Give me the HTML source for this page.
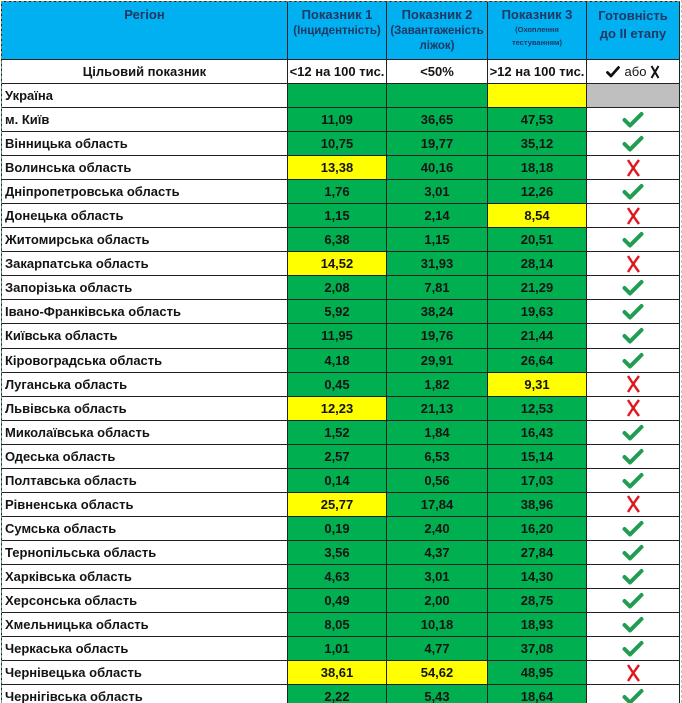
<!DOCTYPE html>
<html><head><meta charset="utf-8">
<style>
html,body{margin:0;padding:0;background:#fff;width:682px;height:703px;overflow:hidden}
body{font-family:"Liberation Sans","DejaVu Sans",sans-serif;position:relative}
.g{position:absolute;left:1px;top:1px;border-left:1px dashed #6f9a86;border-top:1px dashed #6f9a86;border-right:1px solid #222;background:#222;display:grid;
grid-template-columns:285px 98px 100px 98px 92px;
grid-template-rows:57px 23px repeat(26,23.06px);gap:1px}
.g>div{display:flex;align-items:center;justify-content:center;font-weight:bold;font-size:13px;color:#141414;background:#fff;overflow:hidden;white-space:nowrap}
.g>div.r{justify-content:flex-start;padding-left:3px;font-size:13px}
.h{background:#00B0F0 !important;color:#1f3864 !important;position:relative;display:block !important}
.h span{position:absolute;left:0;right:0;text-align:center;line-height:1}
.G{background:#00B050 !important}
.Y{background:#FFFF00 !important}
.S{background:#BFBFBF !important}
.t{font-size:13px !important}
</style></head><body>
<div class="g">
<div class="h"><span style="top:6px;font-size:13px">Регіон</span></div>
<div class="h"><span style="top:6px;font-size:13px">Показник 1</span><span style="top:24px;font-size:11.5px">(Інцидентність)</span></div>
<div class="h"><span style="top:6px;font-size:13px">Показник 2</span><span style="top:24px;font-size:11.5px">(Завантаженість</span><span style="top:39px;font-size:11.5px">ліжок)</span></div>
<div class="h"><span style="top:6px;font-size:13px">Показник 3</span><span style="top:24px;font-size:7.5px">(Охоплення</span><span style="top:37px;font-size:7.5px">тестуванням)</span></div>
<div class="h"><span style="top:7px;font-size:13px">Готовність</span><span style="top:25px;font-size:13px">до II етапу</span></div>

<div class="t">Цільовий показник</div>
<div class="t">&lt;12 на 100 тис.</div>
<div class="t">&lt;50%</div>
<div class="t">&gt;12 на 100 тис.</div>
<div class="t" style="font-weight:normal"><svg width="14" height="12" viewBox="0 0 14 12"><path d="M1.5 6.5 L5 10 L12.5 1.5" stroke="#111" stroke-width="2.8" fill="none" stroke-linecap="round" stroke-linejoin="round"/></svg><span style="margin:0 4px 0 5px;font-weight:normal">або</span><svg width="10" height="14" viewBox="0 0 10 14"><path d="M1.5 1 Q5 7 8.5 13 M8.5 1 Q5 7 1.5 13" stroke="#111" stroke-width="2" fill="none"/></svg></div>

<div class="r">Україна</div><div class="G"></div><div class="G"></div><div class="Y"></div><div class="S"></div>
<div class="r">м. Київ</div><div class="G">11,09</div><div class="G">36,65</div><div class="G">47,53</div><div><svg width="22" height="17" viewBox="0 0 22 17"><path d="M2.5 9 L8 14.5 L19.5 3" stroke="#1f9e52" stroke-width="4" fill="none" stroke-linecap="round" stroke-linejoin="round"/></svg></div>
<div class="r">Вінницька область</div><div class="G">10,75</div><div class="G">19,77</div><div class="G">35,12</div><div><svg width="22" height="17" viewBox="0 0 22 17"><path d="M2.5 9 L8 14.5 L19.5 3" stroke="#1f9e52" stroke-width="4" fill="none" stroke-linecap="round" stroke-linejoin="round"/></svg></div>
<div class="r">Волинська область</div><div class="Y">13,38</div><div class="G">40,16</div><div class="G">18,18</div><div><svg width="15" height="18" viewBox="0 0 15 18"><path d="M2 1 Q7 9 13 17 M13 1 Q7 9 2 17" stroke="#e2141c" stroke-width="2.4" fill="none"/></svg></div>
<div class="r">Дніпропетровська область</div><div class="G">1,76</div><div class="G">3,01</div><div class="G">12,26</div><div><svg width="22" height="17" viewBox="0 0 22 17"><path d="M2.5 9 L8 14.5 L19.5 3" stroke="#1f9e52" stroke-width="4" fill="none" stroke-linecap="round" stroke-linejoin="round"/></svg></div>
<div class="r">Донецька область</div><div class="G">1,15</div><div class="G">2,14</div><div class="Y">8,54</div><div><svg width="15" height="18" viewBox="0 0 15 18"><path d="M2 1 Q7 9 13 17 M13 1 Q7 9 2 17" stroke="#e2141c" stroke-width="2.4" fill="none"/></svg></div>
<div class="r">Житомирська область</div><div class="G">6,38</div><div class="G">1,15</div><div class="G">20,51</div><div><svg width="22" height="17" viewBox="0 0 22 17"><path d="M2.5 9 L8 14.5 L19.5 3" stroke="#1f9e52" stroke-width="4" fill="none" stroke-linecap="round" stroke-linejoin="round"/></svg></div>
<div class="r">Закарпатська область</div><div class="Y">14,52</div><div class="G">31,93</div><div class="G">28,14</div><div><svg width="15" height="18" viewBox="0 0 15 18"><path d="M2 1 Q7 9 13 17 M13 1 Q7 9 2 17" stroke="#e2141c" stroke-width="2.4" fill="none"/></svg></div>
<div class="r">Запорізька область</div><div class="G">2,08</div><div class="G">7,81</div><div class="G">21,29</div><div><svg width="22" height="17" viewBox="0 0 22 17"><path d="M2.5 9 L8 14.5 L19.5 3" stroke="#1f9e52" stroke-width="4" fill="none" stroke-linecap="round" stroke-linejoin="round"/></svg></div>
<div class="r">Івано-Франківська область</div><div class="G">5,92</div><div class="G">38,24</div><div class="G">19,63</div><div><svg width="22" height="17" viewBox="0 0 22 17"><path d="M2.5 9 L8 14.5 L19.5 3" stroke="#1f9e52" stroke-width="4" fill="none" stroke-linecap="round" stroke-linejoin="round"/></svg></div>
<div class="r">Київська область</div><div class="G">11,95</div><div class="G">19,76</div><div class="G">21,44</div><div><svg width="22" height="17" viewBox="0 0 22 17"><path d="M2.5 9 L8 14.5 L19.5 3" stroke="#1f9e52" stroke-width="4" fill="none" stroke-linecap="round" stroke-linejoin="round"/></svg></div>
<div class="r">Кіровоградська область</div><div class="G">4,18</div><div class="G">29,91</div><div class="G">26,64</div><div><svg width="22" height="17" viewBox="0 0 22 17"><path d="M2.5 9 L8 14.5 L19.5 3" stroke="#1f9e52" stroke-width="4" fill="none" stroke-linecap="round" stroke-linejoin="round"/></svg></div>
<div class="r">Луганська область</div><div class="G">0,45</div><div class="G">1,82</div><div class="Y">9,31</div><div><svg width="15" height="18" viewBox="0 0 15 18"><path d="M2 1 Q7 9 13 17 M13 1 Q7 9 2 17" stroke="#e2141c" stroke-width="2.4" fill="none"/></svg></div>
<div class="r">Львівська область</div><div class="Y">12,23</div><div class="G">21,13</div><div class="G">12,53</div><div><svg width="15" height="18" viewBox="0 0 15 18"><path d="M2 1 Q7 9 13 17 M13 1 Q7 9 2 17" stroke="#e2141c" stroke-width="2.4" fill="none"/></svg></div>
<div class="r">Миколаївська область</div><div class="G">1,52</div><div class="G">1,84</div><div class="G">16,43</div><div><svg width="22" height="17" viewBox="0 0 22 17"><path d="M2.5 9 L8 14.5 L19.5 3" stroke="#1f9e52" stroke-width="4" fill="none" stroke-linecap="round" stroke-linejoin="round"/></svg></div>
<div class="r">Одеська область</div><div class="G">2,57</div><div class="G">6,53</div><div class="G">15,14</div><div><svg width="22" height="17" viewBox="0 0 22 17"><path d="M2.5 9 L8 14.5 L19.5 3" stroke="#1f9e52" stroke-width="4" fill="none" stroke-linecap="round" stroke-linejoin="round"/></svg></div>
<div class="r">Полтавська область</div><div class="G">0,14</div><div class="G">0,56</div><div class="G">17,03</div><div><svg width="22" height="17" viewBox="0 0 22 17"><path d="M2.5 9 L8 14.5 L19.5 3" stroke="#1f9e52" stroke-width="4" fill="none" stroke-linecap="round" stroke-linejoin="round"/></svg></div>
<div class="r">Рівненська область</div><div class="Y">25,77</div><div class="G">17,84</div><div class="G">38,96</div><div><svg width="15" height="18" viewBox="0 0 15 18"><path d="M2 1 Q7 9 13 17 M13 1 Q7 9 2 17" stroke="#e2141c" stroke-width="2.4" fill="none"/></svg></div>
<div class="r">Сумська область</div><div class="G">0,19</div><div class="G">2,40</div><div class="G">16,20</div><div><svg width="22" height="17" viewBox="0 0 22 17"><path d="M2.5 9 L8 14.5 L19.5 3" stroke="#1f9e52" stroke-width="4" fill="none" stroke-linecap="round" stroke-linejoin="round"/></svg></div>
<div class="r">Тернопільська область</div><div class="G">3,56</div><div class="G">4,37</div><div class="G">27,84</div><div><svg width="22" height="17" viewBox="0 0 22 17"><path d="M2.5 9 L8 14.5 L19.5 3" stroke="#1f9e52" stroke-width="4" fill="none" stroke-linecap="round" stroke-linejoin="round"/></svg></div>
<div class="r">Харківська область</div><div class="G">4,63</div><div class="G">3,01</div><div class="G">14,30</div><div><svg width="22" height="17" viewBox="0 0 22 17"><path d="M2.5 9 L8 14.5 L19.5 3" stroke="#1f9e52" stroke-width="4" fill="none" stroke-linecap="round" stroke-linejoin="round"/></svg></div>
<div class="r">Херсонська область</div><div class="G">0,49</div><div class="G">2,00</div><div class="G">28,75</div><div><svg width="22" height="17" viewBox="0 0 22 17"><path d="M2.5 9 L8 14.5 L19.5 3" stroke="#1f9e52" stroke-width="4" fill="none" stroke-linecap="round" stroke-linejoin="round"/></svg></div>
<div class="r">Хмельницька область</div><div class="G">8,05</div><div class="G">10,18</div><div class="G">18,93</div><div><svg width="22" height="17" viewBox="0 0 22 17"><path d="M2.5 9 L8 14.5 L19.5 3" stroke="#1f9e52" stroke-width="4" fill="none" stroke-linecap="round" stroke-linejoin="round"/></svg></div>
<div class="r">Черкаська область</div><div class="G">1,01</div><div class="G">4,77</div><div class="G">37,08</div><div><svg width="22" height="17" viewBox="0 0 22 17"><path d="M2.5 9 L8 14.5 L19.5 3" stroke="#1f9e52" stroke-width="4" fill="none" stroke-linecap="round" stroke-linejoin="round"/></svg></div>
<div class="r">Чернівецька область</div><div class="Y">38,61</div><div class="Y">54,62</div><div class="G">48,95</div><div><svg width="15" height="18" viewBox="0 0 15 18"><path d="M2 1 Q7 9 13 17 M13 1 Q7 9 2 17" stroke="#e2141c" stroke-width="2.4" fill="none"/></svg></div>
<div class="r">Чернігівська область</div><div class="G">2,22</div><div class="G">5,43</div><div class="G">18,64</div><div><svg width="22" height="17" viewBox="0 0 22 17"><path d="M2.5 9 L8 14.5 L19.5 3" stroke="#1f9e52" stroke-width="4" fill="none" stroke-linecap="round" stroke-linejoin="round"/></svg></div>
</div>
<div style="position:absolute;left:681px;top:0;width:0;height:703px;border-left:1px dashed #b8c8c0"></div>
</body></html>
